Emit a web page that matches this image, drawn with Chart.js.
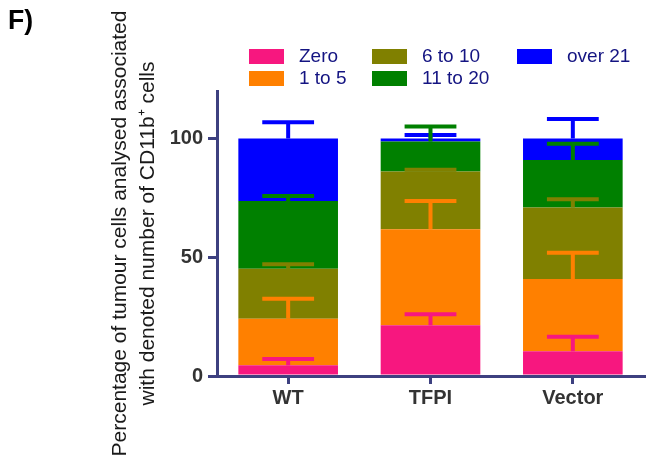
<!DOCTYPE html>
<html>
<head>
<meta charset="utf-8">
<script src="https://cdn.jsdelivr.net/npm/chart.js@4/dist/chart.umd.min.js"></script>
<style>
  body { margin: 0; background: #fff; }
  #wrap { position: relative; width: 646px; height: 456px; }
  #panel {
    position: absolute; left: 8px; top: 4px;
    font: bold 28px "Liberation Sans", Arial, sans-serif;
    color: #000; transform: scaleX(0.95); transform-origin: left top;
  }
  #legend {
    position: absolute; left: 249px; top: 45px;
    display: grid; grid-auto-flow: column;
    grid-template-rows: 22px 22px;
    grid-template-columns: 123px 145px auto;
    font: 19px "Liberation Sans", Arial, sans-serif;
    color: #141482;
  }
  #legend .item { display: flex; align-items: center; white-space: nowrap; }
  #legend .box { width: 35px; height: 15px; margin-right: 15px; }
</style>
</head>
<body>
<div id="wrap">
  <canvas id="chart" width="646" height="456"></canvas>
  <div id="panel">F)</div>
  <div id="legend"></div>
</div>
<script>
// categories and series
const categories = ["WT", "TFPI", "Vector"];
const seriesLabels = ["Zero", "1 to 5", "6 to 10", "11 to 20", "over 21"];
const seriesColors = ["#F7177F", "#FF8000", "#808000", "#008000", "#0000FF"];

// percentage of cells per group (stacked)
const zeroVals   = [4.5, 21.4, 10.4];
const oneToFive  = [19.6, 40.4, 30.4];
const sixToTen   = [21.1, 24.3, 30.2];
const elevenTo20 = [28.5, 12.6, 20.0];
const over21     = [26.3, 1.3, 9.0];

// upper error bars (SEM)
const zeroErr   = [2.7, 4.6, 6.1];
const oneErr    = [8.4, 11.9, 11.1];
const sixErr    = [1.9, 0.7, 3.4];
const elevenErr = [2.1, 6.4, 6.8];
const over21Err = [6.8, 1.5, 8.2];

const yTicks = [0, 50, 100];
const yMax = 120;

const axisColor = "#3D4080";
const values = [zeroVals, oneToFive, sixToTen, elevenTo20, over21];
const errors = [zeroErr, oneErr, sixErr, elevenErr, over21Err];

// legend (3 columns, filled top to bottom)
const legendBox = document.getElementById("legend");
seriesLabels.forEach((lab, i) => {
  const it = document.createElement("div");
  it.className = "item";
  it.innerHTML = `<span class="box" style="background:${seriesColors[i]}"></span><span>${lab}</span>`;
  legendBox.appendChild(it);
});

// vertical error bars on top of each stacked segment
const errorBars = {
  id: "errorBars",
  afterDatasetsDraw(chart) {
    const ctx = chart.ctx;
    const y = chart.scales.y;
    ctx.save();
    ctx.lineWidth = 4;
    for (let i = values.length - 1; i >= 0; i--) {
      const meta = chart.getDatasetMeta(i);
      meta.data.forEach((bar, j) => {
        let base = 0;
        for (let k = 0; k <= i; k++) base += values[k][j];
        const yTop = y.getPixelForValue(base);
        const yCap = y.getPixelForValue(base + errors[i][j]);
        const half = bar.width * 0.26;
        ctx.strokeStyle = seriesColors[i];
        ctx.beginPath();
        ctx.moveTo(bar.x, yTop);
        ctx.lineTo(bar.x, yCap);
        ctx.moveTo(bar.x - half, yCap);
        ctx.lineTo(bar.x + half, yCap);
        ctx.stroke();
      });
    }
    ctx.restore();
  }
};

new Chart(document.getElementById("chart"), {
  type: "bar",
  data: {
    labels: categories,
    datasets: seriesLabels.map((lab, i) => ({
      label: lab,
      data: values[i],
      backgroundColor: seriesColors[i],
      borderWidth: 0,
      barPercentage: 0.7,
      categoryPercentage: 1
    }))
  },
  options: {
    responsive: false,
    animation: false,
    layout: { padding: { top: 91, right: 2, left: 0, bottom: 0 } },
    plugins: { legend: { display: false }, tooltip: { enabled: false } },
    scales: {
      x: {
        stacked: true,
        afterFit: s => { s.height = 80; },
        grid: { offset: false, drawOnChartArea: false, tickLength: 8, lineWidth: 3, color: axisColor },
        border: { color: axisColor, width: 3 },
        ticks: { color: "#333", padding: 2, font: { family: "Liberation Sans, Arial", size: 20, weight: "bold" } }
      },
      y: {
        stacked: true,
        min: 0,
        max: yMax,
        afterFit: s => { s.width = 217; },
        afterBuildTicks: s => { s.ticks = yTicks.map(v => ({ value: v })); },
        grid: { drawOnChartArea: false, tickLength: 9, lineWidth: 3, color: axisColor },
        border: { color: axisColor, width: 3 },
        ticks: { color: "#333", padding: 5, font: { family: "Liberation Sans, Arial", size: 20, weight: "bold" } },
        title: {
          display: true,
          text: ["Percentage of tumour cells analysed associated", "with denoted number of CD11b\u207A cells"],
          color: "#1a1a1a",
          padding: { top: 106, bottom: 0 },
          font: { family: "Liberation Sans, Arial", size: 21, lineHeight: "28px" }
        }
      }
    }
  },
  plugins: [errorBars]
});
</script>
</body>
</html>
